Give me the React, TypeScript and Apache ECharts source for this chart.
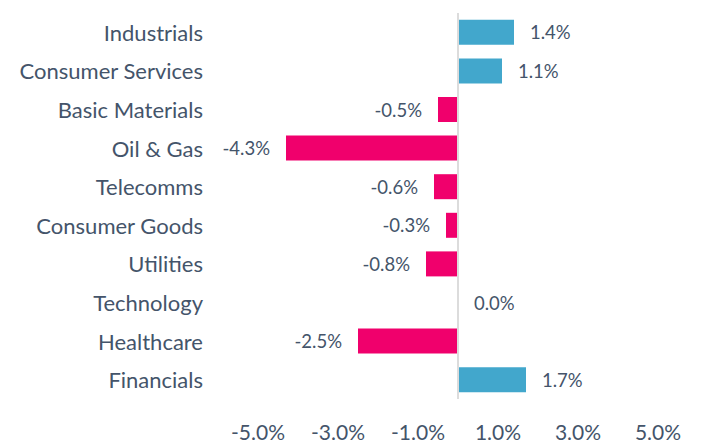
import React, { useEffect, useRef } from "react";
import * as echarts from "echarts";

const categories = [
  "Industrials",
  "Consumer Services",
  "Basic Materials",
  "Oil & Gas",
  "Telecomms",
  "Consumer Goods",
  "Utilities",
  "Technology",
  "Healthcare",
  "Financials",
];
const values = [1.4, 1.1, -0.5, -4.3, -0.6, -0.3, -0.8, 0.0, -2.5, 1.7];
const tickLabels = ["-5.0%", "-3.0%", "-1.0%", "1.0%", "3.0%", "5.0%"];

const POS = "#42A7CC";
const NEG = "#F0006C";
const TEXT = "#44546A";
const FONT = "Lato";

export default function App() {
  const ref = useRef<HTMLDivElement>(null);
  useEffect(() => {
    if (!ref.current) return;
    const chart = echarts.init(ref.current, undefined, { renderer: "svg" });
    const data = values.map((v) => ({
      value: v,
      itemStyle: { color: v >= 0 ? POS : NEG },
      label: { position: v >= 0 ? "right" : "left" },
    }));
    chart.setOption({
      animation: false,
      grid: { left: 258, right: 44, top: 13, bottom: 48, containLabel: false },
      xAxis: {
        type: "value",
        min: -5,
        max: 5,
        interval: 1,
        axisLine: { show: false },
        axisTick: { show: false },
        splitLine: { show: false },
        axisLabel: {
          margin: 22,
          color: TEXT,
          fontFamily: FONT,
          fontSize: 21,
          formatter: (v: number) => {
            const s = v.toFixed(1) + "%";
            return tickLabels.includes(s) ? s : "";
          },
        },
      },
      yAxis: {
        type: "category",
        data: categories,
        inverse: true,
        axisLine: { show: false, onZero: false },
        axisTick: { show: false },
        axisLabel: {
          margin: 55,
          color: TEXT,
          fontFamily: FONT,
          fontSize: 22,
        },
      },
      series: [
        {
          type: "bar",
          data,
          barWidth: 25,
          label: {
            show: true,
            distance: 16,
            color: TEXT,
            fontFamily: FONT,
            fontSize: 18.5,
            formatter: (p: any) => Number(p.value).toFixed(1) + "%",
          },
          markLine: {
            silent: true,
            symbol: "none",
            label: { show: false },
            lineStyle: { color: "#DCDCDC", width: 2, type: "solid" },
            data: [{ xAxis: 0 }],
          },
        },
      ],
    });
    return () => chart.dispose();
  }, []);
  return (
    <div
      ref={ref}
      style={{ position: "fixed", left: 0, top: 0, width: 702, height: 447, background: "#fff" }}
    />
  );
}
